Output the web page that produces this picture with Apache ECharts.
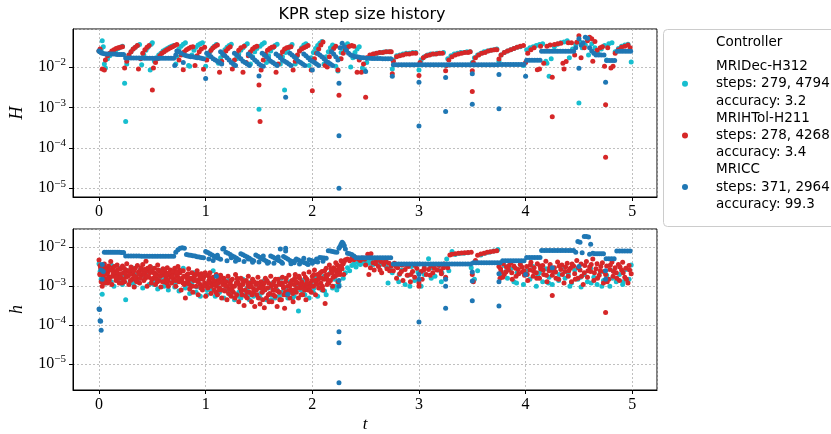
<!DOCTYPE html>
<html><head><meta charset="utf-8">
<script src="https://cdn.jsdelivr.net/npm/echarts@6/dist/echarts.min.js"></script>
<style>html,body{margin:0;padding:0;background:#fff}#c{width:831px;height:434px}</style>
</head><body><div id="c"></div>
<script>
// ---- legend info ----
const controllers = ['MRIDec-H312', 'MRIHTol-H211', 'MRICC'];
const stepCounts = ['279, 4794', '278, 4268', '371, 2964'];
const accuracies = ['3.2', '3.4', '99.3'];
const xTicks = [0, 1, 2, 3, 4, 5];

// ---- top panel: macro step size H, pairs [t, H] ----
const decH = [[0.00,0.025],[0.02,0.027],[0.03,0.045],[0.04,0.032],[0.05,0.012],[0.06,0.0095],
[0.08,0.016],[0.10,0.019],[0.12,0.022],[0.14,0.025],[0.16,0.027],[0.18,0.029],[0.20,0.031],[0.22,0.033],
[0.24,0.004],[0.25,0.00045],[0.26,0.012],[0.28,0.02],[0.30,0.024],[0.32,0.028],[0.34,0.031],[0.36,0.034],[0.38,0.036],
[0.40,0.0115],[0.42,0.02],[0.44,0.026],[0.46,0.031],[0.48,0.0085],[0.49,0.037],[0.50,0.04],
[0.52,0.014],[0.54,0.017],[0.56,0.02],[0.58,0.022],[0.60,0.025],[0.62,0.027],[0.64,0.029],[0.66,0.031],[0.68,0.033],[0.70,0.034],
[0.72,0.012],[0.73,0.018],[0.75,0.028],[0.77,0.033],[0.79,0.037],[0.81,0.04],
[0.84,0.011],[0.85,0.0105],[0.87,0.02],[0.89,0.026],[0.91,0.031],[0.93,0.035],[0.95,0.038],[0.97,0.04],
[1.00,0.0105],[1.02,0.018],[1.04,0.024],[1.06,0.029],[1.08,0.033],[1.10,0.036],
[1.12,0.0125],[1.14,0.017],[1.16,0.022],[1.18,0.027],[1.20,0.031],[1.22,0.034],[1.24,0.037],
[1.27,0.011],[1.29,0.016],[1.31,0.021],[1.33,0.026],[1.35,0.03],[1.37,0.034],[1.39,0.038],
[1.42,0.012],[1.44,0.018],[1.46,0.024],[1.48,0.029],[1.50,0.0009],[1.51,0.033],[1.53,0.037],[1.55,0.04],
[1.57,0.013],[1.59,0.019],[1.61,0.025],[1.63,0.03],[1.65,0.034],[1.67,0.037],
[1.70,0.012],[1.72,0.018],[1.74,0.0027],[1.75,0.023],[1.77,0.028],[1.79,0.032],[1.81,0.036],
[1.84,0.012],[1.86,0.019],[1.88,0.025],[1.90,0.03],[1.92,0.035],[1.94,0.038],
[1.97,0.011],[1.99,0.017],[2.01,0.023],[2.03,0.029],[2.05,0.034],[2.07,0.039],[2.09,0.043],
[2.11,0.012],[2.13,0.018],[2.15,0.024],[2.17,0.03],[2.19,0.035],
[2.22,0.0105],[2.24,0.008],[2.25,0.016],[2.27,0.023],[2.29,0.029],[2.31,0.034],[2.33,0.038],
[2.36,0.01],[2.38,0.017],[2.40,0.023],[2.42,0.028],[2.44,0.032],
[2.47,0.0095],[2.49,0.0085],[2.51,0.013],[2.53,0.017],[2.55,0.019],[2.58,0.021],[2.61,0.022],[2.64,0.023],[2.67,0.0235],[2.70,0.024],[2.73,0.024],
[2.75,0.009],[2.76,0.015],[2.79,0.019],[2.82,0.02],[2.85,0.021],[2.88,0.022],[2.91,0.022],[2.94,0.023],[2.97,0.023],
[3.00,0.0085],[3.02,0.015],[3.05,0.018],[3.08,0.02],[3.11,0.021],[3.14,0.021],[3.17,0.022],[3.20,0.022],[3.23,0.023],
[3.25,0.011],[3.27,0.016],[3.30,0.019],[3.33,0.021],[3.36,0.022],[3.39,0.023],[3.42,0.023],[3.45,0.024],[3.48,0.024],
[3.50,0.013],[3.52,0.017],[3.55,0.02],[3.58,0.022],[3.61,0.024],[3.64,0.025],[3.67,0.026],[3.70,0.027],[3.73,0.028],
[3.75,0.014],[3.77,0.02],[3.80,0.023],[3.83,0.025],[3.86,0.027],[3.89,0.029],[3.92,0.031],[3.95,0.032],[3.98,0.011],
[4.01,0.027],[4.04,0.03],[4.07,0.032],[4.10,0.034],[4.13,0.036],[4.16,0.038],[4.19,0.014],[4.20,0.0125],[4.22,0.0059],[4.24,0.016],
[4.27,0.032],[4.30,0.037],[4.33,0.04],[4.36,0.042],[4.39,0.045],[4.41,0.017],[4.44,0.028],[4.47,0.036],[4.50,0.0013],[4.51,0.042],
[4.53,0.03],[4.56,0.035],[4.59,0.02],[4.62,0.038],[4.65,0.03],[4.68,0.022],[4.71,0.028],[4.74,0.034],[4.76,0.015],[4.78,0.038],
[4.81,0.04],[4.84,0.024],[4.87,0.029],[4.90,0.033],[4.93,0.035],[4.96,0.037],[4.99,0.0133]];

const tolH = [[0.00,0.025],[0.01,0.028],[0.03,0.009],[0.05,0.0085],[0.06,0.015],[0.08,0.019],[0.10,0.022],[0.12,0.025],[0.14,0.027],[0.16,0.029],[0.18,0.03],[0.20,0.031],[0.22,0.032],
[0.24,0.0095],[0.26,0.014],[0.28,0.02],[0.30,0.024],[0.32,0.028],[0.34,0.031],[0.36,0.034],[0.37,0.009],[0.39,0.016],[0.41,0.022],[0.43,0.027],[0.45,0.031],[0.47,0.034],
[0.50,0.0027],[0.51,0.0095],[0.53,0.013],[0.55,0.016],[0.57,0.019],[0.59,0.022],[0.61,0.024],[0.63,0.026],[0.65,0.028],[0.67,0.03],[0.69,0.032],[0.71,0.034],[0.73,0.036],
[0.75,0.015],[0.77,0.02],[0.79,0.0086],[0.80,0.024],[0.82,0.027],[0.84,0.029],[0.86,0.031],[0.88,0.032],
[0.90,0.011],[0.92,0.019],[0.94,0.024],[0.96,0.028],[0.98,0.0088],[0.99,0.031],
[1.01,0.015],[1.03,0.021],[1.05,0.026],[1.07,0.03],[1.09,0.033],[1.11,0.035],
[1.13,0.0075],[1.15,0.014],[1.17,0.02],[1.19,0.025],[1.21,0.029],[1.23,0.032],
[1.25,0.009],[1.27,0.015],[1.29,0.021],[1.31,0.026],[1.33,0.03],[1.35,0.0075],[1.36,0.033],
[1.38,0.013],[1.40,0.019],[1.42,0.024],[1.44,0.028],[1.46,0.031],[1.48,0.033],[1.50,0.0036],[1.51,0.00045],[1.52,0.0085],
[1.54,0.015],[1.56,0.021],[1.58,0.026],[1.60,0.029],[1.62,0.031],[1.64,0.032],[1.66,0.0075],
[1.68,0.012],[1.70,0.019],[1.72,0.024],[1.74,0.028],[1.76,0.03],[1.78,0.031],[1.80,0.032],[1.82,0.0085],
[1.84,0.014],[1.86,0.02],[1.88,0.025],[1.90,0.028],[1.92,0.03],[1.94,0.032],[1.96,0.034],
[1.99,0.0085],[2.00,0.0026],[2.02,0.016],[2.04,0.022],[2.06,0.028],[2.08,0.035],[2.10,0.042],
[2.12,0.011],[2.14,0.01],[2.16,0.018],[2.18,0.024],[2.20,0.029],[2.22,0.033],[2.24,0.0085],[2.25,0.002],
[2.27,0.016],[2.29,0.022],[2.31,0.027],[2.33,0.031],[2.35,0.033],[2.37,0.034],[2.39,0.033],
[2.42,0.0075],[2.44,0.015],[2.46,0.0075],[2.48,0.012],[2.50,0.0018],[2.51,0.017],[2.54,0.02],[2.57,0.021],[2.60,0.022],[2.63,0.023],[2.66,0.023],[2.69,0.024],[2.72,0.024],[2.74,0.024],
[2.75,0.0068],[2.76,0.014],[2.79,0.018],[2.82,0.019],[2.85,0.02],[2.88,0.021],[2.91,0.021],[2.94,0.022],[2.97,0.022],
[3.00,0.0062],[3.01,0.013],[3.04,0.017],[3.07,0.019],[3.10,0.02],[3.13,0.021],[3.16,0.021],[3.19,0.022],[3.22,0.022],
[3.25,0.0081],[3.26,0.011],[3.28,0.015],[3.31,0.018],[3.34,0.02],[3.37,0.021],[3.40,0.022],[3.43,0.023],[3.46,0.023],[3.48,0.024],
[3.50,0.0081],[3.50,0.0025],[3.51,0.013],[3.53,0.017],[3.56,0.02],[3.59,0.022],[3.62,0.023],[3.65,0.025],[3.68,0.026],[3.71,0.027],[3.73,0.027],
[3.75,0.0158],[3.77,0.02],[3.80,0.023],[3.83,0.025],[3.86,0.027],[3.89,0.029],[3.92,0.031],[3.95,0.033],[3.98,0.034],
[4.00,0.013],[4.02,0.022],[4.05,0.027],[4.08,0.03],[4.11,0.0086],[4.13,0.009],[4.14,0.033],[4.17,0.0125],[4.20,0.033],[4.23,0.035],
[4.25,0.0056],[4.25,0.00059],[4.27,0.036],[4.30,0.038],[4.33,0.039],[4.35,0.0125],[4.36,0.009],[4.38,0.0138],[4.40,0.04],[4.43,0.04],
[4.46,0.02],[4.48,0.041],[4.50,0.06],[4.52,0.017],[4.55,0.03],[4.58,0.045],[4.60,0.055],[4.62,0.05],[4.63,0.014],[4.65,0.043],
[4.67,0.026],[4.70,0.03],[4.72,0.032],[4.74,0.0105],[4.75,0.00117],[4.75,0.000059],[4.77,0.03],[4.80,0.0095],[4.82,0.0105],
[4.84,0.022],[4.87,0.027],[4.90,0.031],[4.93,0.033],[4.96,0.035],[4.98,0.03]];

const ccH = [[0.00,0.025],[0.01,0.024],[0.02,0.023],[0.03,0.022],[0.05,0.0215],[0.07,0.021],[0.09,0.021],[0.11,0.021],[0.13,0.021],[0.15,0.021],[0.17,0.0205],[0.19,0.0205],[0.21,0.0205],[0.23,0.0205],
[0.25,0.0168],[0.275,0.0168],[0.30,0.0167],[0.325,0.0167],[0.35,0.0167],[0.375,0.0167],[0.40,0.0167],[0.425,0.0166],[0.45,0.0166],[0.475,0.0166],[0.50,0.0166],[0.525,0.0166],[0.55,0.0166],[0.575,0.0165],[0.60,0.0165],[0.625,0.0165],[0.65,0.0165],[0.675,0.0165],[0.70,0.0165],
[0.71,0.011],[0.72,0.02],[0.73,0.025],[0.75,0.024],[0.77,0.022],[0.79,0.013],[0.80,0.02],[0.82,0.019],[0.84,0.0185],[0.86,0.018],[0.88,0.018],[0.90,0.0175],[0.92,0.017],[0.94,0.017],[0.96,0.0165],[0.98,0.016],
[1.00,0.0052],[1.01,0.022],[1.03,0.02],[1.05,0.018],[1.07,0.016],[1.09,0.015],[1.11,0.014],[1.13,0.013],[1.15,0.012],
[1.14,0.024],[1.16,0.021],[1.18,0.019],[1.20,0.017],[1.22,0.015],[1.24,0.013],[1.26,0.012],[1.28,0.011],
[1.27,0.022],[1.29,0.02],[1.31,0.018],[1.33,0.016],[1.35,0.014],[1.37,0.013],[1.39,0.012],[1.41,0.011],
[1.40,0.021],[1.42,0.019],[1.44,0.017],[1.46,0.015],[1.48,0.0135],[1.50,0.006],[1.50,0.012],[1.52,0.011],[1.54,0.0105],
[1.53,0.022],[1.55,0.02],[1.57,0.018],[1.59,0.016],[1.61,0.014],[1.63,0.013],[1.65,0.012],[1.67,0.011],
[1.66,0.021],[1.68,0.019],[1.70,0.017],[1.72,0.015],[1.74,0.014],[1.75,0.0018],[1.76,0.013],[1.78,0.012],[1.80,0.011],
[1.79,0.022],[1.81,0.02],[1.83,0.018],[1.85,0.016],[1.87,0.014],[1.89,0.013],[1.91,0.012],[1.93,0.011],
[1.92,0.021],[1.94,0.019],[1.96,0.017],[1.98,0.015],[2.00,0.0085],[2.00,0.014],[2.02,0.013],[2.04,0.012],[2.06,0.011],
[2.05,0.022],[2.07,0.02],[2.09,0.018],[2.11,0.016],[2.13,0.014],[2.15,0.013],[2.17,0.012],[2.19,0.011],
[2.18,0.024],[2.20,0.021],[2.22,0.018],[2.24,0.015],[2.25,0.004],[2.25,0.0002],[2.25,0.00001],[2.26,0.03],[2.28,0.039],[2.30,0.032],[2.32,0.026],[2.34,0.022],[2.36,0.02],[2.38,0.019],[2.40,0.018],[2.42,0.018],[2.44,0.0175],[2.46,0.017],[2.48,0.017],[2.50,0.0078],
[2.51,0.0165],[2.535,0.0165],[2.56,0.0164],[2.585,0.0164],[2.61,0.0163],[2.635,0.0163],[2.66,0.0162],[2.685,0.0162],[2.71,0.0162],[2.735,0.0162],
[2.75,0.0059],[2.76,0.0115],[2.785,0.0115],[2.81,0.0115],[2.835,0.0115],[2.86,0.0115],[2.885,0.0114],[2.91,0.0114],[2.935,0.0114],[2.96,0.0114],[2.985,0.0114],
[3.00,0.0042],[3.00,0.00035],[3.01,0.0114],[3.035,0.0114],[3.06,0.0114],[3.085,0.0114],[3.11,0.0114],[3.135,0.0114],[3.16,0.0114],[3.185,0.0114],[3.21,0.0114],[3.235,0.0114],
[3.25,0.0055],[3.25,0.0008],[3.26,0.0114],[3.285,0.0114],[3.31,0.0114],[3.335,0.0114],[3.36,0.0114],[3.385,0.0114],[3.41,0.0114],[3.435,0.0114],[3.46,0.0114],[3.485,0.0114],
[3.50,0.0068],[3.50,0.0012],[3.51,0.0115],[3.535,0.0115],[3.56,0.0115],[3.585,0.0115],[3.61,0.0115],[3.635,0.0115],[3.66,0.0115],[3.685,0.0115],[3.71,0.0115],[3.735,0.0115],
[3.75,0.0066],[3.75,0.00093],[3.76,0.0116],[3.785,0.0116],[3.81,0.0116],[3.835,0.0116],[3.86,0.0116],[3.885,0.0116],[3.91,0.0116],[3.935,0.0116],[3.96,0.0116],[3.985,0.0116],
[4.00,0.0059],[4.01,0.0148],[4.035,0.0148],[4.06,0.0148],[4.085,0.0148],[4.11,0.0148],[4.135,0.0148],
[4.15,0.0245],[4.175,0.0245],[4.20,0.0245],[4.225,0.0245],[4.25,0.0245],[4.275,0.0245],[4.30,0.0245],[4.325,0.0245],[4.35,0.0245],[4.375,0.0245],[4.40,0.0245],[4.425,0.0245],[4.45,0.0245],
[4.47,0.03],[4.50,0.0094],[4.50,0.05],[4.52,0.035],[4.54,0.04],[4.56,0.055],[4.58,0.052],[4.60,0.03],[4.62,0.025],[4.64,0.022],
[4.66,0.02],[4.685,0.02],[4.71,0.02],[4.735,0.02],[4.75,0.0042],[4.76,0.0146],[4.785,0.0146],[4.81,0.0146],[4.835,0.0146],
[4.86,0.0245],[4.885,0.0245],[4.91,0.0245],[4.935,0.0245],[4.96,0.0245],[4.985,0.0245]];

// ---- bottom panel: micro step size h, pairs [t, h in units of 1e-3] ----
const decHmicro = [[0.00,3.8],[0.01,2.4],[0.02,1.5],[0.03,0.62],[0.04,2.0],[0.05,3.1],[0.06,1.2],[0.08,2.6],[0.10,1.6],[0.12,3.4],[0.14,1.0],[0.16,2.2],[0.18,1.4],[0.20,2.9],[0.22,1.1],[0.24,1.8],[0.25,0.45],[0.27,2.5],[0.29,1.3],[0.31,3.0],[0.33,1.0],[0.35,2.0],[0.37,1.5],[0.39,2.7],[0.41,0.9],[0.43,1.7],[0.45,2.4],[0.47,1.1],[0.49,3.0],[0.51,1.4],[0.53,2.1],[0.55,0.85],[0.57,1.6],[0.59,2.6],[0.61,1.0],[0.63,1.8],[0.65,0.8],[0.67,2.3],[0.69,1.3],[0.71,0.95],[0.73,2.0],[0.75,0.75],[0.77,1.5],[0.79,2.9],[0.81,0.9],[0.83,1.7],[0.85,0.65],[0.87,1.2],[0.89,2.2],[0.91,0.7],[0.93,1.4],[0.95,0.55],[0.97,1.0],[0.99,1.9],
[1.01,0.6],[1.03,1.3],[1.05,0.8],[1.07,2.5],[1.09,0.55],[1.11,1.1],[1.13,0.7],[1.15,1.6],[1.17,0.5],[1.19,0.9],[1.21,1.4],[1.23,0.6],[1.25,1.0],[1.27,0.45],[1.29,1.2],[1.31,0.7],[1.33,0.5],[1.35,1.5],[1.37,0.6],[1.39,0.9],[1.41,0.45],[1.43,1.3],[1.45,0.55],[1.47,0.8],[1.49,1.1],[1.51,0.5],[1.53,0.7],[1.55,1.4],[1.57,0.45],[1.59,0.9],[1.61,0.6],[1.63,1.2],[1.65,0.5],[1.67,0.8],[1.69,0.55],[1.71,1.6],[1.73,0.6],[1.75,0.9],[1.77,0.5],[1.79,1.3],[1.81,0.7],[1.83,0.55],[1.85,1.0],[1.87,0.23],[1.89,0.8],[1.91,1.4],[1.93,0.6],[1.95,0.9],[1.97,0.5],[1.99,1.2],
[2.01,0.7],[2.03,1.6],[2.05,0.55],[2.07,1.0],[2.09,0.8],[2.11,1.8],[2.13,0.6],[2.15,1.2],[2.17,2.2],[2.19,0.9],[2.21,1.5],[2.23,0.8],[2.25,1.1],[2.27,2.8],[2.29,1.6],[2.31,2.2],[2.33,3.0],[2.35,2.5],[2.37,3.4],[2.39,3.8],[2.41,3.1],[2.43,4.0],[2.45,3.6],[2.47,4.2],[2.49,3.8],[2.51,4.4],[2.53,3.9],[2.55,4.5],[2.57,3.6],[2.59,4.2],[2.61,4.6],[2.63,3.5],[2.65,4.0],[2.67,4.4],[2.69,3.3],[2.71,1.2],[2.73,3.0],[2.75,2.2],[2.78,3.5],[2.81,1.3],[2.84,2.6],[2.87,1.1],[2.90,1.9],[2.93,3.2],[2.96,1.4],[2.99,2.3],
[3.02,1.0],[3.05,2.0],[3.09,5.1],[3.12,3.0],[3.15,1.8],[3.18,2.6],[3.21,1.3],[3.24,3.3],[3.26,5.0],[3.28,2.5],[3.31,7.8],[3.34,6.5],[3.38,6.9],[3.42,7.0],[3.46,7.2],[3.49,3.0],[3.52,1.5],[3.55,2.5],[3.58,6.3],[3.62,7.0],[3.66,7.5],[3.70,8.0],[3.74,8.8],[3.77,2.0],[3.80,3.4],[3.83,1.6],[3.86,2.8],[3.89,1.3],[3.92,2.2],[3.95,3.6],[3.98,1.1],
[4.01,2.5],[4.04,1.5],[4.07,3.2],[4.10,1.0],[4.13,2.2],[4.16,1.3],[4.19,2.8],[4.22,1.7],[4.25,1.1],[4.28,2.3],[4.31,1.4],[4.34,3.0],[4.37,1.6],[4.40,2.1],[4.43,1.2],[4.46,2.6],[4.49,1.5],[4.52,0.95],[4.55,2.0],[4.58,1.3],[4.61,2.9],[4.64,1.7],[4.67,1.1],[4.70,2.3],[4.73,1.4],[4.76,1.9],[4.79,1.0],[4.82,2.5],[4.85,1.3],[4.88,2.0],[4.91,1.1],[4.94,2.7],[4.97,1.5],[4.99,3.5],
[0.015,1.9],[0.115,1.3],[0.215,2.0],[0.315,1.2],[0.415,1.9],[0.515,1.1],[0.615,1.5],[0.715,1.2],[0.815,1.1],[0.915,0.95],[1.015,0.8],[1.115,0.65],[1.215,0.75],[1.315,0.55],[1.415,0.6],[1.515,0.65],[1.615,0.45],[1.715,0.7],[1.815,0.5],[1.915,0.65],[2.015,0.9],[2.115,0.75],[2.215,1.0],[2.815,2.0],[2.915,1.0],[3.115,1.6],[3.215,2.2],[3.815,2.4],[3.915,1.2],[4.115,1.8],[4.215,1.2],[4.315,2.0],[4.415,1.0],[4.515,1.7],[4.615,1.2],[4.715,1.0],[4.815,1.6],[4.915,1.3]];

const tolHmicro = [[0.00,4.7],[0.01,3.4],[0.01,2.1],[0.02,1.3],[0.02,2.8],[0.03,1.0],[0.04,1.8],[0.05,3.7],[0.05,2.4],[0.06,1.5],[0.07,2.9],[0.08,1.2],[0.08,2.2],[0.09,3.3],[0.10,1.7],
[0.11,4.3],[0.12,2.6],[0.12,1.1],[0.13,3.0],[0.14,1.9],[0.15,2.4],[0.16,1.4],[0.17,3.5],[0.18,2.0],[0.19,1.2],[0.20,2.8],
[0.21,1.6],[0.22,3.3],[0.23,2.2],[0.24,1.3],[0.25,2.6],[0.26,3.8],[0.27,1.8],[0.28,1.1],[0.29,2.4],[0.30,3.1],
[0.31,1.5],[0.32,2.0],[0.33,0.95],[0.34,2.9],[0.35,1.7],[0.36,3.4],[0.37,2.3],[0.38,1.2],[0.39,2.7],[0.40,1.9],
[0.41,3.6],[0.42,1.4],[0.43,2.1],[0.44,4.4],[0.45,1.0],[0.46,2.5],[0.47,1.7],[0.48,3.2],[0.49,1.2],[0.50,2.3],
[0.51,1.6],[0.52,2.9],[0.53,1.1],[0.54,2.0],[0.55,3.5],[0.56,1.4],[0.57,2.4],[0.58,0.95],[0.59,1.9],[0.60,2.8],
[0.61,1.3],[0.62,2.2],[0.63,1.6],[0.64,3.0],[0.65,1.0],[0.66,1.9],[0.67,2.6],[0.68,1.2],[0.69,2.1],[0.70,1.5],
[0.71,2.9],[0.72,1.0],[0.73,1.8],[0.74,3.2],[0.75,1.3],[0.76,2.2],[0.77,0.8],[0.78,1.6],[0.79,2.5],[0.80,1.1],
[0.81,0.5],[0.82,1.9],[0.83,1.3],[0.84,2.8],[0.85,0.85],[0.86,1.6],[0.87,2.2],[0.88,0.7],[0.89,1.4],[0.90,2.0],
[0.91,1.0],[0.92,2.5],[0.93,0.6],[0.94,1.5],[0.95,1.1],[0.96,2.1],[0.97,0.8],[0.98,1.7],[0.99,1.2],[1.00,0.55],
[1.01,1.9],[1.02,0.9],[1.03,1.4],[1.04,2.2],[1.05,0.65],[1.06,1.2],[1.07,1.7],[1.08,0.8],[1.09,1.3],[1.10,1.0],[1.10,2.0],
[1.11,0.6],[1.12,1.5],[1.13,0.9],[1.14,1.9],[1.15,0.5],[1.16,1.1],[1.17,1.6],[1.18,0.75],[1.19,1.3],[1.20,0.45],
[1.21,1.8],[1.22,0.85],[1.23,1.2],[1.24,0.55],[1.25,1.5],[1.26,0.7],[1.27,1.0],[1.28,2.0],[1.29,0.6],[1.30,1.3],
[1.31,0.4],[1.32,0.9],[1.33,1.6],[1.34,0.6],[1.35,1.1],[1.36,0.32],[1.37,0.8],[1.38,1.4],[1.39,0.5],[1.40,1.0],[1.40,1.8],
[1.41,0.7],[1.42,1.2],[1.43,0.4],[1.44,1.5],[1.45,0.85],[1.46,0.3],[1.47,1.1],[1.48,0.6],[1.49,1.7],[1.50,0.9],
[1.51,0.35],[1.52,1.3],[1.53,0.7],[1.54,1.0],[1.55,0.28],[1.56,1.6],[1.57,0.5],[1.58,0.9],[1.59,1.2],[1.60,0.65],
[1.61,1.8],[1.62,0.4],[1.63,0.8],[1.64,1.3],[1.65,0.55],[1.66,1.0],[1.67,0.3],[1.68,1.5],[1.69,0.7],[1.70,1.1],
[1.71,0.45],[1.72,1.7],[1.73,0.9],[1.74,0.27],[1.75,1.3],[1.76,0.6],[1.77,1.0],[1.78,1.9],[1.79,0.5],[1.80,0.8],
[1.81,1.4],[1.82,0.4],[1.83,1.1],[1.84,2.0],[1.85,0.7],[1.86,1.2],[1.87,0.5],[1.88,1.6],[1.89,0.9],[1.90,1.3],
[1.91,0.6],[1.92,2.1],[1.93,1.0],[1.94,0.45],[1.95,1.5],[1.96,0.8],[1.97,2.3],[1.98,1.2],[1.99,0.7],[2.00,1.8],
[2.01,1.0],[2.02,2.6],[2.03,0.6],[2.04,1.4],[2.05,2.0],[2.06,0.9],[2.07,1.7],[2.08,1.2],[2.09,2.4],[2.10,0.8],
[2.11,1.5],[2.12,0.36],[2.13,2.9],[2.14,1.1],[2.15,2.0],[2.16,3.5],[2.17,1.4],[2.18,2.5],[2.19,1.0],[2.20,3.0],
[2.21,1.8],[2.22,4.0],[2.23,2.3],[2.24,1.3],[2.25,3.2],[2.26,2.0],[2.27,4.5],[2.28,2.8],[2.29,3.8],[2.30,4.3],
[2.31,4.8],[2.33,5.0],[2.35,4.5],[2.37,5.2],[2.39,4.8],[2.41,5.4],[2.43,5.0],[2.45,4.6],[2.47,5.3],[2.49,4.9],[2.50,3.5],
[2.52,6.6],[2.53,2.0],[2.55,6.8],[2.57,4.0],[2.58,2.6],[2.60,4.7],[2.62,3.2],[2.64,4.3],[2.65,2.2],[2.67,3.6],[2.69,4.6],[2.70,2.8],[2.72,3.9],[2.74,3.3],
[2.76,2.5],[2.77,3.9],[2.79,1.6],[2.80,3.0],[2.82,2.1],[2.84,3.5],[2.85,1.4],[2.87,2.7],[2.89,1.9],[2.90,3.2],[2.92,1.3],[2.94,2.4],[2.96,1.7],[2.98,2.9],[3.00,1.0],[3.00,1.2],
[3.02,2.4],[3.03,1.5],[3.05,3.0],[3.07,2.0],[3.09,2.7],[3.11,3.3],[3.13,2.2],[3.15,3.6],[3.17,2.6],[3.19,3.4],[3.21,2.1],[3.23,3.0],[3.25,1.7],
[3.27,3.0],[3.29,6.3],[3.31,6.6],[3.34,6.8],[3.37,7.0],[3.40,7.1],[3.43,7.2],[3.46,7.3],[3.49,7.4],[3.50,2.0],[3.51,1.3],
[3.53,4.6],[3.55,6.2],[3.58,6.7],[3.61,7.0],[3.64,7.4],[3.67,7.7],[3.70,7.9],[3.73,8.1],
[3.75,3.2],[3.76,1.6],[3.77,2.4],[3.79,3.8],[3.80,2.0],[3.82,3.1],[3.84,2.6],[3.86,4.0],[3.87,2.2],[3.89,3.3],[3.91,1.8],[3.93,2.7],[3.95,3.6],[3.97,2.3],[3.99,1.9],
[4.01,3.2],[4.02,1.4],[4.04,2.6],[4.05,4.1],[4.07,1.8],[4.08,3.0],[4.10,2.2],[4.11,3.8],[4.13,1.6],[4.14,2.8],[4.16,3.4],[4.17,2.0],[4.19,4.4],[4.20,1.3],[4.22,2.5],[4.23,3.6],[4.25,0.58],[4.25,1.9],[4.27,3.0],[4.28,2.3],
[4.30,4.2],[4.31,1.5],[4.33,2.7],[4.34,3.5],[4.36,1.2],[4.37,2.4],[4.39,3.9],[4.40,1.8],[4.42,2.9],[4.43,1.3],[4.45,3.3],[4.46,2.1],[4.48,4.6],[4.49,1.6],[4.51,2.6],[4.52,3.7],[4.54,1.1],[4.55,2.2],[4.57,4.3],[4.58,1.7],
[4.60,3.1],[4.61,2.4],[4.63,5.0],[4.64,1.4],[4.66,2.8],[4.67,3.8],[4.69,1.9],[4.70,2.5],[4.72,4.0],[4.73,1.2],[4.75,0.21],[4.75,2.0],[4.76,3.3],[4.78,1.5],[4.79,2.7],[4.81,4.2],[4.82,1.8],[4.84,3.0],[4.85,2.2],[4.87,3.6],
[4.88,1.4],[4.90,2.6],[4.91,4.1],[4.93,1.7],[4.94,2.9],[4.96,1.2],[4.97,3.4],[4.99,2.1],
[0.015,3.0],[0.035,2.5],[0.055,1.2],[0.075,2.0],[0.095,1.4],[0.105,2.6],[0.125,1.8],[0.145,3.2],[0.165,2.3],[0.185,1.6],[0.205,2.1],[0.215,1.2],[0.235,2.9],[0.255,1.7],[0.275,2.5],[0.295,1.4],[0.315,2.6],[0.335,1.8],[0.355,1.3],[0.375,2.1],[0.395,3.0],[0.415,2.4],[0.435,1.6],[0.455,2.9],[0.475,2.2],[0.495,1.5],
[0.515,2.2],[0.535,1.6],[0.555,2.6],[0.575,1.8],[0.595,1.3],[0.615,2.5],[0.635,1.2],[0.655,2.2],[0.675,1.7],[0.695,2.4],[0.715,1.4],[0.735,2.0],[0.755,2.6],[0.775,1.4],[0.795,1.8],[0.815,1.2],[0.835,2.1],[0.855,1.5],[0.875,1.0],[0.895,1.8],[0.915,1.4],[0.935,2.0],[0.955,0.9],[0.975,1.5],[0.995,2.2],
[1.015,1.1],[1.035,1.7],[1.055,1.0],[1.075,1.4],[1.095,0.7],[1.115,1.2],[1.135,1.7],[1.155,0.8],[1.175,1.3],[1.195,1.0],[1.215,0.65],[1.235,1.4],[1.255,1.0],[1.275,0.5],[1.295,1.6],[1.315,1.1],[1.335,0.75],[1.355,1.3],[1.375,0.55],[1.395,1.2],[1.415,0.95],[1.435,0.6],[1.455,1.3],[1.475,0.8],[1.495,0.5],
[1.515,1.1],[1.535,0.45],[1.555,0.8],[1.575,1.4],[1.595,0.4],[1.615,1.0],[1.635,0.6],[1.655,1.5],[1.675,0.75],[1.695,0.45],[1.715,1.2],[1.735,0.6],[1.755,1.6],[1.775,0.75],[1.795,1.2],[1.815,0.65],[1.835,1.6],[1.855,0.9],[1.875,1.8],[1.895,0.6],[1.915,1.1],[1.935,1.7],[1.955,1.0],[1.975,0.8],[1.995,1.4],
[2.015,2.0],[2.035,1.2],[2.055,1.5],[2.075,2.2],[2.095,1.0],[2.115,2.5],[2.135,1.6],[2.155,1.2],[2.175,2.8],[2.195,1.7],[2.215,2.6],[2.235,3.5],[2.255,2.4],[2.275,3.4],[2.295,2.0],
[2.545,3.0],[2.595,3.8],[2.635,2.6],[2.685,4.2],[2.725,2.5],[2.785,3.2],[2.835,2.4],[2.875,3.6],[2.925,2.0],[2.965,3.4],[3.045,2.6],[3.105,1.9],[3.145,2.9],[3.205,2.5],[3.235,3.7],
[3.765,2.8],[3.785,1.7],[3.815,2.3],[3.845,3.4],[3.875,1.5],[3.905,2.9],[3.935,2.1],[3.965,3.1],[3.985,2.5],[4.015,2.0],[4.045,3.5],[4.075,2.4],[4.105,1.6],[4.135,3.3],[4.165,2.6],[4.195,1.9],[4.225,3.0],[4.255,2.5],[4.285,1.6],[4.315,3.3],[4.345,2.0],
[4.375,3.1],[4.405,2.5],[4.435,3.7],[4.465,1.5],[4.495,3.0],[4.525,1.8],[4.555,3.4],[4.585,2.5],[4.615,3.6],[4.645,2.2],[4.675,1.6],[4.705,3.2],[4.735,2.4],[4.765,1.3],[4.795,3.5],[4.825,2.4],[4.855,1.6],[4.885,3.1],[4.915,2.2],[4.945,1.5],[4.975,2.6],
[0.0075,2.0],[0.0425,3.0],[0.0625,2.6],[0.0875,1.6],[0.1325,2.1],[0.1575,1.7],[0.1775,2.7],[0.2275,1.5],[0.2475,2.1],[0.2875,2.0],[0.3275,2.5],[0.3475,1.4],[0.3875,1.6],[0.4275,2.7],[0.4475,1.8],[0.4875,2.5],[0.5275,1.9],[0.5475,1.3],[0.5875,2.3],[0.6275,1.9],[0.6475,1.4],[0.6875,1.8],[0.7275,2.3],[0.7475,1.6],[0.7875,1.2],[0.8275,1.6],[0.8475,1.1],[0.8875,1.7],[0.9275,1.3],[0.9475,1.8],[0.9875,1.0],
[1.0275,1.2],[1.0475,1.6],[1.0875,1.1],[1.1275,0.8],[1.1475,1.3],[1.1875,1.0],[1.2275,1.1],[1.2475,0.8],[1.2875,1.2],[1.3275,0.9],[1.3475,1.4],[1.3875,0.7],[1.4275,1.0],[1.4475,0.7],[1.4875,1.2],[1.5275,0.9],[1.5475,1.2],[1.5875,0.6],[1.6275,1.1],[1.6475,0.8],[1.6875,1.2],[1.7275,1.0],[1.7475,0.7],[1.7875,1.0],[1.8275,0.8],[1.8475,1.3],[1.8875,1.1],[1.9275,0.8],[1.9475,1.2],[1.9875,1.0],
[2.0275,1.4],[2.0475,1.1],[2.0875,1.6],[2.1275,1.9],[2.1475,1.4],[2.1875,2.2],[2.2275,1.9],[2.2475,2.8]];

const ccHmicro = [[0.00,0.26],[0.005,0.25],[0.01,0.13],[0.015,0.125],[0.02,0.074],[0.02,2.6],[0.03,1.5],[0.03,3.6],[0.04,2.4],
[0.05,7.5],[0.07,7.5],[0.09,7.5],[0.11,7.4],[0.13,7.4],[0.15,7.4],[0.17,7.4],[0.19,7.4],[0.21,7.3],[0.23,7.3],
[0.25,6.0],[0.275,6.0],[0.30,6.0],[0.325,6.0],[0.35,6.0],[0.375,6.0],[0.40,5.9],[0.425,5.9],[0.45,5.9],[0.475,5.9],[0.50,5.9],[0.525,5.9],[0.55,5.9],[0.575,5.9],[0.60,5.9],[0.625,5.9],[0.65,5.9],[0.675,5.9],[0.70,5.9],
[0.72,7.5],[0.74,8.6],[0.76,9.5],[0.78,9.8],[0.80,9.4],[0.82,6.5],[0.84,6.3],[0.86,6.2],[0.88,6.1],[0.90,6.0],[0.92,5.7],[0.94,5.6],[0.96,5.5],[0.98,5.4],
[1.00,7.8],[1.02,7.3],[1.04,6.8],[1.06,6.3],[1.08,5.9],[1.10,5.5],[1.12,5.2],[1.14,4.9],[1.10,1.8],
[1.16,9.0],[1.17,9.4],[1.19,7.5],[1.21,7.0],[1.23,6.5],[1.25,6.0],[1.27,5.6],[1.29,5.2],[1.31,4.8],
[1.33,6.8],[1.35,6.4],[1.37,6.0],[1.39,5.6],[1.41,5.2],[1.43,4.8],[1.45,4.5],
[1.47,6.3],[1.49,5.9],[1.51,5.5],[1.53,5.1],[1.55,4.7],[1.57,4.4],[1.59,4.1],
[1.61,6.0],[1.63,5.6],[1.65,5.2],[1.67,4.8],[1.69,4.5],[1.70,9.0],[1.71,4.2],
[1.73,5.8],[1.75,9.4],[1.75,8.0],[1.75,5.4],[1.77,5.0],[1.77,0.62],[1.79,4.6],[1.81,4.3],[1.83,4.0],
[1.85,5.0],[1.87,4.7],[1.89,4.4],[1.91,4.2],[1.93,4.0],[1.95,3.8],
[1.97,4.8],[1.99,4.6],[2.01,4.4],[2.03,4.3],[2.05,4.2],[2.07,5.5],[2.09,5.4],[2.11,5.3],[2.13,5.2],
[1.03,5.0],[1.07,4.6],[1.11,6.2],[1.20,4.5],[1.24,5.4],[1.28,4.4],[1.36,4.3],[1.40,5.0],[1.44,4.1],[1.50,4.2],[1.54,6.0],[1.58,3.9],[1.64,3.9],[1.68,5.6],[1.72,3.9],[1.80,3.8],[1.84,4.6],[1.88,3.7],[1.92,5.2],[1.96,3.6],[2.00,3.9],[2.04,5.0],[2.10,4.4],
[2.15,8.2],[2.17,8.0],[2.19,7.8],[2.21,7.6],[2.23,7.5],[2.25,9.5],[2.26,10.5],[2.27,12.0],[2.28,13.5],[2.29,12.5],[2.30,11.0],[2.31,9.0],[2.33,7.0],[2.35,6.8],[2.37,6.5],[2.39,6.0],
[2.25,1.4],[2.25,1.0],[2.25,0.067],[2.25,0.035],[2.25,0.0033],
[2.41,5.4],[2.435,5.4],[2.46,5.4],[2.485,5.4],[2.51,5.4],[2.535,5.4],[2.56,5.4],[2.585,5.4],[2.61,5.4],[2.635,5.4],[2.66,5.4],[2.685,5.4],[2.71,5.4],[2.735,5.4],
[2.76,3.7],[2.785,3.7],[2.81,3.7],[2.835,3.7],[2.86,3.7],[2.885,3.7],[2.91,3.7],[2.935,3.7],[2.96,3.7],[2.985,3.7],
[3.00,0.12],[3.00,1.5],[3.00,2.0],[3.01,3.7],[3.035,3.7],[3.06,3.7],[3.085,3.7],[3.11,3.7],[3.135,3.7],[3.16,3.7],[3.185,3.7],[3.21,3.7],[3.235,3.7],
[3.25,0.27],[3.25,1.0],[3.25,1.5],[3.26,3.7],[3.285,3.7],[3.31,3.7],[3.335,3.7],[3.36,3.7],[3.385,3.7],[3.41,3.7],[3.435,3.7],[3.46,3.7],[3.485,3.7],
[3.50,0.42],[3.50,1.35],[3.50,2.3],[3.51,4.0],[3.535,4.0],[3.56,4.0],[3.585,4.0],[3.61,4.0],[3.635,4.0],[3.66,4.0],[3.685,4.0],[3.71,4.0],[3.735,4.0],[3.76,4.0],
[3.75,0.31],[3.75,1.3],[3.75,2.1],[3.785,4.5],[3.81,4.5],[3.835,4.5],[3.86,4.5],[3.885,4.5],[3.91,4.5],[3.935,4.5],[3.96,4.5],[3.985,4.5],
[4.00,2.0],[4.01,5.5],[4.035,5.5],[4.06,5.5],[4.085,5.5],[4.11,5.5],[4.135,5.5],
[4.15,8.3],[4.175,8.3],[4.20,8.3],[4.225,8.3],[4.25,8.3],[4.275,8.3],[4.30,8.3],[4.325,8.3],[4.35,8.3],[4.375,8.3],[4.40,8.3],[4.425,8.3],[4.45,8.3],[4.25,3.0],
[4.47,7.5],[4.49,14.0],[4.50,3.2],[4.51,13.5],[4.53,7.2],[4.55,19.0],[4.57,19.0],[4.59,18.5],[4.61,12.0],[4.60,6.6],[4.63,7.0],
[4.65,6.8],[4.67,6.8],[4.69,6.8],[4.71,6.8],[4.73,6.8],[4.75,1.5],[4.75,2.5],[4.755,5.1],[4.78,5.1],[4.805,5.1],[4.83,5.1],
[4.855,8.0],[4.88,8.0],[4.905,8.0],[4.93,8.0],[4.955,8.0],[4.98,8.0]];

// ---- chart ----
const colors = ['#17becf', '#d62728', '#1f77b4'];
const serif = '"Liberation Serif", "DejaVu Serif", serif';
const sans = '"DejaVu Sans", sans-serif';
const X0 = -0.244, X1 = 5.232;

function powLabel(v) {
  const e = Math.round(Math.log10(v));
  return '{b|10}{e|' + (e < 0 ? '\u2212' + (-e) : e) + '}';
}
const yRich = { b: { fontFamily: serif, fontSize: 16, color: '#000' },
                e: { fontFamily: serif, fontSize: 11, color: '#000', padding: [0, 0, 9, 0] } };

function xAxis(idx, withName) {
  return {
    type: 'value', gridIndex: idx, min: X0, max: X1, splitNumber: 5,
    axisLine: { show: true, onZero: false, lineStyle: { color: '#000', width: 1 } },
    axisTick: { show: true, inside: false, length: 4, lineStyle: { color: '#000' } },
    axisLabel: { fontFamily: serif, fontSize: 16, color: '#000', margin: 7,
      showMinLabel: false, showMaxLabel: false,
      formatter: v => (xTicks.indexOf(v) >= 0 ? String(v) : '') },
    splitLine: { show: true, lineStyle: { color: '#b0b0b0', type: [2, 2], width: 0.8 } },
    name: withName ? 't' : '', nameLocation: 'middle', nameGap: 26,
    nameTextStyle: { fontFamily: serif, fontStyle: 'italic', fontSize: 17, color: '#000' }
  };
}
function yAxis(idx, lo, hi, name) {
  return {
    type: 'log', logBase: 10, gridIndex: idx, min: lo, max: hi,
    axisLine: { show: true, onZero: false, lineStyle: { color: '#000', width: 1 } },
    axisTick: { show: true, length: 4, lineStyle: { color: '#000' } },
    axisLabel: { showMinLabel: false, showMaxLabel: false, margin: 7,
      formatter: v => {
        const l = Math.log10(v);
        return Math.abs(l - Math.round(l)) < 1e-6 ? powLabel(v) : '';
      }, rich: yRich },
    splitLine: { show: true, lineStyle: { color: '#b0b0b0', type: [2, 2], width: 0.8 } },
    name: name, nameLocation: 'middle', nameGap: 47, nameRotate: 90,
    nameTextStyle: { fontFamily: serif, fontStyle: 'italic', fontSize: 18, color: '#000' }
  };
}
function scat(name, data, ci, idx, scale) {
  return {
    type: 'scatter', name: name, xAxisIndex: idx, yAxisIndex: idx,
    data: data.map(p => [p[0], p[1] * scale]),
    symbol: 'circle', symbolSize: 5,
    itemStyle: { color: colors[ci], opacity: 1 },
    emphasis: { disabled: true }, animation: false
  };
}

const chart = echarts.init(document.getElementById('c'), null, { renderer: 'canvas' });
chart.setOption({
  animation: false,
  backgroundColor: '#fff',
  grid: [
    { left: 67, top: 29, width: 590, height: 168, show: true, borderColor: '#000', borderWidth: 1, backgroundColor: 'transparent' },
    { left: 67, top: 229, width: 590, height: 168, show: true, borderColor: '#000', borderWidth: 1, backgroundColor: 'transparent' }
  ],
  xAxis: [xAxis(0, false), xAxis(1, true)],
  yAxis: [yAxis(0, Math.pow(10, -5.216), Math.pow(10, -1.057), 'H'),
          yAxis(1, Math.pow(10, -5.668), Math.pow(10, -1.53), 'h')],
  legend: {
    orient: 'vertical', left: 677, top: 53, itemWidth: 6, itemHeight: 6, itemGap: 0,
    icon: 'circle', selectedMode: false,
    data: controllers,
    formatter: name => {
      const i = controllers.indexOf(name);
      return name + '\nsteps: ' + stepCounts[i] + '\naccuracy: ' + accuracies[i];
    },
    textStyle: { fontFamily: sans, fontSize: 13.5, color: '#000', lineHeight: 17.2, padding: [0, 0, 0, 23] }
  },
  graphic: [
    { type: 'rect', z: 0, shape: { x: 663.5, y: 29.5, width: 200, height: 197, r: 4 },
      style: { fill: '#fff', stroke: '#cccccc', lineWidth: 1 } },
    { type: 'text', z: 1, x: 716, y: 42,
      style: { text: 'Controller', fontFamily: sans, fontSize: 13.5, fill: '#000', verticalAlign: 'middle', align: 'left' } },
    { type: 'text', z: 1, x: 362, y: 15,
      style: { text: 'KPR step size history', fontFamily: sans, fontSize: 16, fill: '#000', verticalAlign: 'middle', align: 'center' } }
  ],
  series: [
    scat(controllers[0], decH, 0, 0, 1),
    scat(controllers[1], tolH, 1, 0, 1),
    scat(controllers[2], ccH, 2, 0, 1),
    scat(controllers[0], decHmicro, 0, 1, 1e-3),
    scat(controllers[1], tolHmicro, 1, 1, 1e-3),
    scat(controllers[2], ccHmicro, 2, 1, 1e-3)
  ]
});
</script>
</body></html>
